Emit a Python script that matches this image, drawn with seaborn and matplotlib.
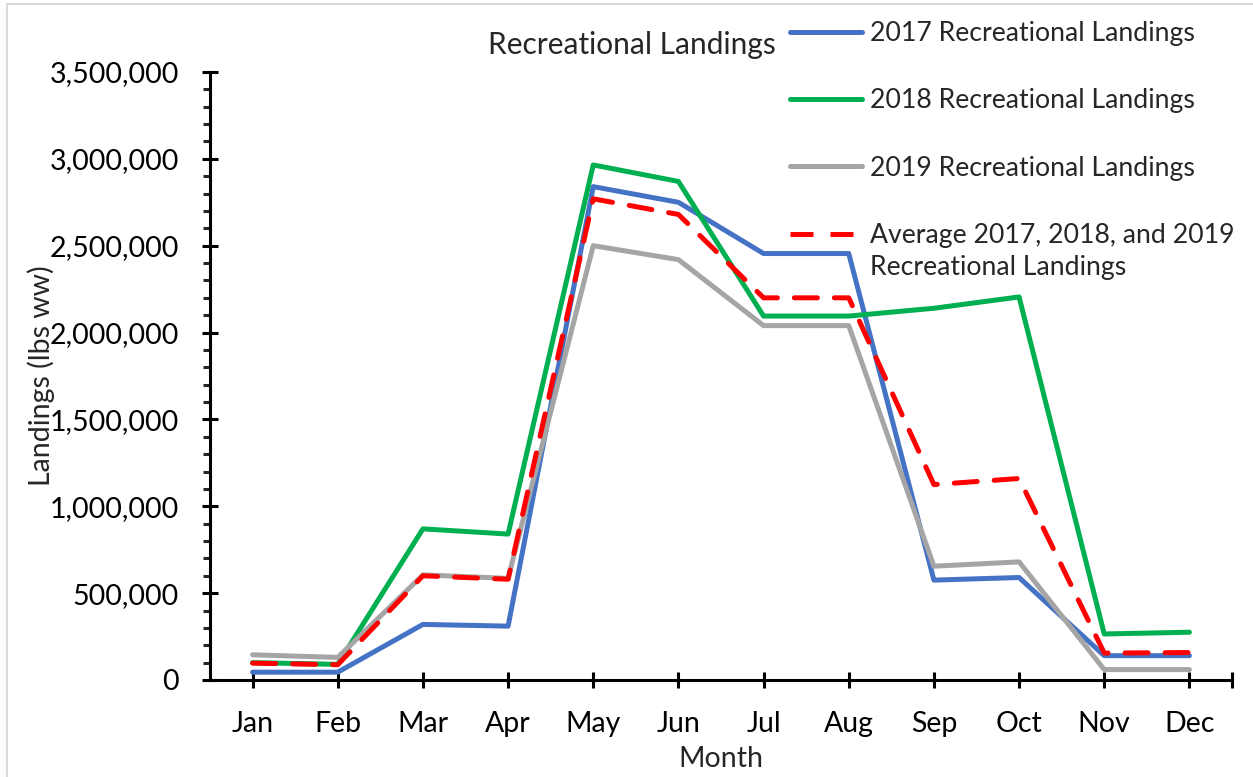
import matplotlib
matplotlib.use("Agg")
import matplotlib.pyplot as plt
import seaborn as sns
import pandas as pd
from matplotlib.ticker import FuncFormatter, MultipleLocator
from matplotlib.patches import Rectangle

# Data
months = ["Jan", "Feb", "Mar", "Apr", "May", "Jun", "Jul", "Aug", "Sep", "Oct", "Nov", "Dec"]
landings_2017 = [45000, 45000, 320000, 310000, 2840000, 2750000, 2455000, 2455000, 575000, 590000, 140000, 140000]
landings_2018 = [100000, 90000, 870000, 840000, 2965000, 2870000, 2095000, 2095000, 2140000, 2205000, 265000, 275000]
landings_2019 = [145000, 130000, 605000, 585000, 2500000, 2420000, 2040000, 2040000, 655000, 680000, 60000, 60000]
landings_avg = [97000, 88000, 600000, 580000, 2770000, 2680000, 2200000, 2200000, 1125000, 1160000, 155000, 158000]

series_names = [
    "2017 Recreational Landings",
    "2018 Recreational Landings",
    "2019 Recreational Landings",
    "Average 2017, 2018, and 2019",
]
avg_label_line2 = "Recreational Landings"
series_colors = ["#4472C4", "#00B050", "#A5A5A5", "#FF0000"]

rows = []
for name, values in zip(series_names, [landings_2017, landings_2018, landings_2019, landings_avg]):
    for m, v in zip(months, values):
        rows.append({"month": m, "landings": v, "series": name})
df = pd.DataFrame(rows)

sns.set_style("ticks")
plt.rcParams['font.family'] = ['Lato', 'DejaVu Sans']

fig = plt.figure(figsize=(12.53, 7.77), dpi=100)
ax = fig.add_axes([210 / 1253, 97 / 777, 1022 / 1253, 608 / 777])

palette = dict(zip(series_names, series_colors))
dashes = {n: "" for n in series_names}
dashes[series_names[3]] = (4.6, 3.4)

sns.lineplot(data=df, x="month", y="landings", hue="series", style="series",
             palette=palette, dashes=dashes, linewidth=3.6, sort=False, ax=ax,
             legend=False)
for line in ax.get_lines():
    line.set_dash_capstyle("round")
    line.set_solid_capstyle("round")

ax.set_xlim(-0.5, 11.5)
ax.set_ylim(0, 3500000)
ax.set_xticks(list(range(12)) + [11.5])
ax.set_xticklabels(months + [""])
ax.yaxis.set_major_locator(MultipleLocator(500000))
ax.yaxis.set_minor_locator(MultipleLocator(100000))
ax.yaxis.set_major_formatter(FuncFormatter(lambda v, p: f"{int(v):,}"))

sns.despine(ax=ax)
for side in ["left", "bottom"]:
    ax.spines[side].set_linewidth(2.2)
    ax.spines[side].set_color("black")
ax.tick_params(axis="both", which="major", direction="inout", length=11, width=2.2,
               labelsize=20.5, colors="black")
ax.tick_params(axis="y", which="minor", direction="out", length=5, width=2.2)
ax.tick_params(axis="x", which="major", pad=17)
ax.tick_params(axis="y", which="major", pad=17)

ax.set_xlabel("Month", fontsize=20.5, labelpad=6)
ax.set_ylabel("Landings (lbs ww)", fontsize=20.5, labelpad=-4)

# legend
handles = []
for name, color in zip(series_names, series_colors):
    ls = (0, (4.6, 3.4)) if name.startswith("Average") else "-"
    h, = ax.plot([], [], color=color, linewidth=3.6, linestyle=ls)
    handles.append(h)
leg = fig.legend(handles, series_names, loc="upper left",
                 bbox_to_anchor=(790 / 1253, 1 - 21 / 777), frameon=False,
                 fontsize=19.2, handlelength=2.7, handletextpad=0.3,
                 labelspacing=1.59, borderpad=0, borderaxespad=0)
# second line of the average label, under the first
fig.text(870 / 1253, 1 - 268 / 777, avg_label_line2, fontsize=19.2,
         ha="left", va="center")

fig.text(632 / 1253, 1 - 45 / 777, "Recreational Landings", fontsize=21.5,
         ha="center", va="center")

fig.patches.append(Rectangle((7 / 1253, -0.1), 1.2, 1 - 4 / 777 + 0.1,
                             transform=fig.transFigure, fill=False,
                             edgecolor="#D9D9D9", linewidth=1.5))

fig.savefig("out.png", dpi=100)
